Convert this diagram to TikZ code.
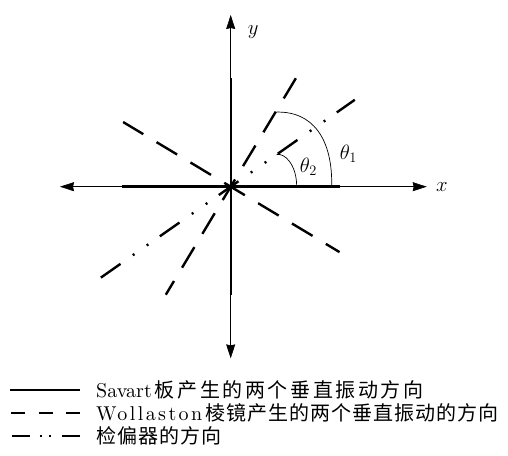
\documentclass[tikz,border=0pt]{standalone}
\usepackage{fontspec}
\setmainfont{lmroman10-regular.otf}
\newfontfamily\wollfont[LetterSpace=12]{lmroman10-regular.otf}
\newfontfamily\cjk[LetterSpace=5]{Noto Sans CJK SC}
\newfontfamily\cjkwide[LetterSpace=13]{Noto Sans CJK SC}
\usetikzlibrary{arrows.meta}
\begin{document}
\begin{tikzpicture}[x=1pt,y=1pt,
  axisline/.style={line width=0.6pt,
    {Stealth[length=14pt,width=9pt,inset=1pt]}-{Stealth[length=14pt,width=9pt,inset=1pt]}},
  solidline/.style={line width=2.4pt},
  wdash/.style={line width=2.4pt, dash pattern=on 24pt off 15.5pt, dash phase=8pt},
  adash/.style={line width=2.4pt, dash pattern=on 24pt off 15pt on 2pt off 15pt on 2pt off 14pt},
  arcline/.style={line width=0.7pt},
  lbl/.style={font=\fontsize{21}{25}\selectfont, inner sep=0pt},
  legsolid/.style={line width=2.4pt},
  legdash/.style={line width=2.4pt, dash pattern=on 14pt off 13.5pt},
  legdashdot/.style={line width=2.4pt, dash pattern=on 18pt off 10pt on 2pt off 7pt on 2pt off 11pt},
  legtext/.style={font=\fontsize{20}{24}\selectfont, anchor=base west, inner sep=0pt}]
\useasboundingbox (0,0) rectangle (508,455);
\begin{scope}[shift={(230.7,268.3)}]
  % axes
  \coordinate (O) at (0,0);
  \coordinate (xl) at (-170.7,0);
  \coordinate (xr) at (196,0);
  \coordinate (yb) at (0,-171.7);
  \coordinate (yt) at (0,171.7);
  \draw[axisline] (xl) -- (xr);
  \draw[axisline] (yb) -- (yt);
  % Savart plate directions
  \coordinate (sl) at (-109,0);
  \coordinate (sr) at (109,0);
  \coordinate (sb) at (0,-108.5);
  \coordinate (st) at (0,108.7);
  \draw[solidline] (sl) -- (sr);
  \draw[solidline] (sb) -- (st);
  % Wollaston prism directions
  \coordinate (wa1) at (239:126);
  \coordinate (wa2) at (59:126.5);
  \coordinate (wb1) at (-31:127);
  \coordinate (wb2) at (149:125.5);
  \draw[wdash] (wa1) -- (wa2);
  \draw[wdash] (wb1) -- (wb2);
  % analyser direction
  \coordinate (an1) at (215:158.5);
  \coordinate (an2) at (35:151.5);
  \draw[adash] (an1) -- (an2);
  % angle arcs
  \coordinate (t1s) at (59:87);
  \coordinate (t1e) at (101,0);
  \draw[arcline] (t1s) .. controls (82,76) and (102,48) .. (t1e);
  \coordinate (t2s) at (35:56);
  \coordinate (t2e) at (66,0);
  \draw[arcline] (t2s) .. controls (54,34) and (66,22) .. (t2e);
  % labels
  \node[lbl] (th1) at (117.6,32.7) {$\theta_1$};
  \node[lbl] (th2) at (77.6,20) {$\theta_2$};
  \node[lbl] (xlab) at (211.3,0) {$x$};
  \node[lbl] (ylab) at (22.6,155) {$y$};
\end{scope}
% legend
\coordinate (l1a) at (10,65);
\coordinate (l1b) at (80,65);
\draw[legsolid] (l1a) -- (l1b);
\coordinate (l2a) at (11,42);
\coordinate (l2b) at (80,42);
\draw[legdash] (l2a) -- (l2b);
\coordinate (l3a) at (11.7,19);
\coordinate (l3b) at (80,19);
\draw[legdashdot] (l3a) -- (l3b);
\node[legtext] (t1) at (96,58) {Savart\hspace{3pt}{\cjkwide 板产生的两个垂直振动方向}};
\node[legtext] (t2) at (96,35) {{\wollfont Wollaston}\hspace{3pt}{\cjk 棱镜产生的两个垂直振动的方向}};
\node[legtext] (t3) at (96,12) {{\cjk 检偏器的方向}};
\end{tikzpicture}
\end{document}
